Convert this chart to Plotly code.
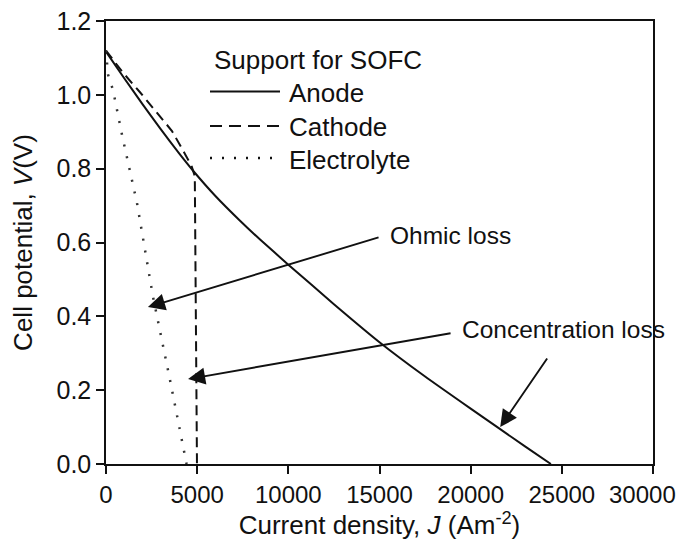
import plotly.graph_objects as go

# ---- data ----
anode_j = [0, 1000, 2000, 3000, 4000, 4800, 6000, 7350, 8450, 10000, 12500, 15000, 17500, 20000, 21600, 23000, 24400]
anode_v = [1.117, 1.045, 0.975, 0.907, 0.842, 0.793, 0.726, 0.659, 0.608, 0.540, 0.433, 0.330, 0.237, 0.150, 0.095, 0.047, 0.0]

cathode_j = [0, 930, 1865, 2800, 3620, 4330, 4700, 4870, 4990]
cathode_v = [1.12, 1.06, 1.007, 0.952, 0.902, 0.84, 0.806, 0.78, 0.0]

electrolyte_j = [0, 110, 385, 880, 1700, 2570, 3500, 4420]
electrolyte_v = [1.12, 1.055, 1.013, 0.891, 0.707, 0.455, 0.23, 0.0]

series_names = ["Anode", "Cathode", "Electrolyte"]
legend_title = "Support for SOFC"

x_ticks = [0, 5000, 10000, 15000, 20000, 25000, 30000]
y_ticks = [0.0, 0.2, 0.4, 0.6, 0.8, 1.0, 1.2]

# annotation arrows: (tail_j, tail_v, tip_j, tip_v)
ohmic_arrow = (15030, 0.615, 2300, 0.425)
conc_arrow1 = (18980, 0.355, 4500, 0.230)
conc_arrow2 = (24250, 0.29, 21620, 0.10)
ohmic_label = ("Ohmic loss", 15470, 0.619)
conc_label = ("Concentration loss", 19420, 0.363)

FONT = "Liberation Sans, Arial, Helvetica, sans-serif"
INK = "#111111"

fig = go.Figure()
fig.add_trace(go.Scatter(x=anode_j, y=anode_v, mode="lines", name=series_names[0],
                         line=dict(color=INK, width=2, shape="spline", smoothing=0.5), showlegend=False))
fig.add_trace(go.Scatter(x=cathode_j, y=cathode_v, mode="lines", name=series_names[1],
                         line=dict(color=INK, width=2, dash="10px,6px"), showlegend=False))
fig.add_trace(go.Scatter(x=electrolyte_j, y=electrolyte_v, mode="lines", name=series_names[2],
                         line=dict(color="#333333", width=2.5, dash="2px,10px"), showlegend=False))

# manual legend (shapes + text) in paper coordinates
def px2paper(px, py):
    return (px - 106) / 547.0, (464 - py) / 443.0

anns = []
tx, ty = px2paper(212, 60)
anns.append(dict(text=legend_title, x=tx, y=ty, xref="paper", yref="paper", xanchor="left",
                 yanchor="middle", showarrow=False, font=dict(size=26, color=INK, family=FONT)))
legend_rows = [(91.5, 92.5, None), (126, 127, "12px,7px"), (158, 159.5, "2px,10px")]
for name, (ry, ty_txt, dash) in zip(series_names, legend_rows):
    x0, y0 = px2paper(210, ry)
    x1, _ = px2paper(280, ry)
    fig.add_shape(type="line", xref="paper", yref="paper", x0=x0, x1=x1, y0=y0, y1=y0,
                  line=dict(color=INK, width=2 if dash != "2px,10px" else 2.5,
                            dash=dash if dash else "solid"))
    lx, ly = px2paper(287, ty_txt)
    anns.append(dict(text=name, x=lx, y=ly, xref="paper", yref="paper", xanchor="left",
                     yanchor="middle", showarrow=False, font=dict(size=26, color=INK, family=FONT)))

for (tj, tv, hj, hv) in [ohmic_arrow, conc_arrow1, conc_arrow2]:
    anns.append(dict(text="", x=hj, y=hv, ax=tj, ay=tv, xref="x", yref="y", axref="x", ayref="y",
                     showarrow=True, arrowhead=2, arrowsize=1.8, arrowwidth=1.9, arrowcolor=INK,
                     standoff=0, startstandoff=0))
for (txt, j, v) in [ohmic_label, conc_label]:
    anns.append(dict(text=txt, x=j, y=v, xref="x", yref="y", xanchor="left", yanchor="middle",
                     showarrow=False, font=dict(size=24.5, color=INK, family=FONT)))

# last x tick label sits pulled inside the page edge (as in the reference)
x_ticktext = [str(v) for v in x_ticks]
last_label = x_ticktext[-1]
x_ticktext[-1] = ""
anns.append(dict(text=last_label, x=x_ticks[-1], y=0, xref="x", yref="paper", xanchor="right",
                 yanchor="middle", xshift=25, yshift=-30, showarrow=False,
                 font=dict(size=24, color=INK, family=FONT)))

axis_common = dict(showline=True, linecolor=INK, linewidth=1.5, mirror=True, ticks="outside",
                   ticklen=8, tickwidth=1.5, tickcolor=INK, showgrid=False, zeroline=False,
                   automargin=False)

fig.update_xaxes(range=[0, 30000], tickvals=x_ticks, ticktext=x_ticktext,
                 tickfont=dict(size=24, color=INK, family=FONT),
                 title=dict(text="Current density, <i>J</i> (Am<sup>-2</sup>)",
                            font=dict(size=26, color=INK, family=FONT), standoff=8),
                 **axis_common)
fig.update_yaxes(range=[0, 1.2], tickvals=y_ticks, ticktext=[f"{v:.1f}" for v in y_ticks],
                 tickfont=dict(size=25, color=INK, family=FONT),
                 title=dict(text="Cell potential, <i>V</i>(V)",
                            font=dict(size=26, color=INK, family=FONT), standoff=16),
                 **axis_common)

fig.update_layout(width=684, height=549, margin=dict(l=106, r=31, t=21, b=85),
                  paper_bgcolor="white", plot_bgcolor="white", annotations=anns,
                  font=dict(family=FONT, color=INK))
fig.write_html("out.html")
